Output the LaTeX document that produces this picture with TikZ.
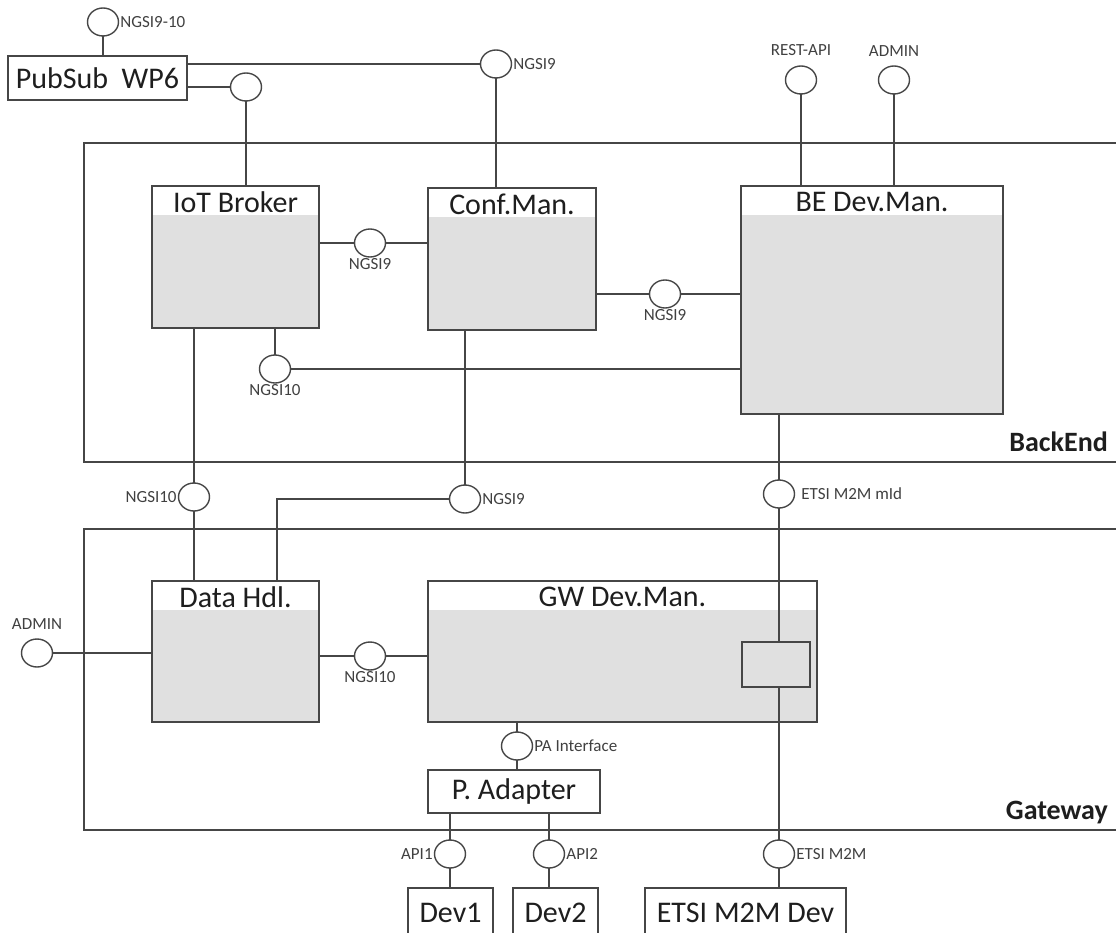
\documentclass[tikz,border=0pt]{standalone}
\usepackage{fontspec}
\setmainfont{Carlito}
\usetikzlibrary{shapes.geometric,calc}
\definecolor{boxgray}{RGB}{224,224,224}
\definecolor{linec}{RGB}{70,70,70}
\definecolor{txt}{RGB}{30,30,30}
\newcommand\compbox[6]{%
  \fill[boxgray] (#2,#3+29) rectangle (#4,#5);
  \node[draw=linec,line width=1.6pt,inner sep=0pt,minimum width={#4-#2},minimum height={#5-#3}] (#1) at ({(#2+#4)/2},{(#3+#5)/2}) {};
  \node[ttl] at ({(#2+#4)/2},#3+16) {#6};
}
\begin{document}
\begin{tikzpicture}[x=1pt,y=-1pt,
  ln/.style={draw=linec,line width=1.4pt},
  ifc/.style={ellipse,draw=linec,line width=1.4pt,fill=white,minimum width=31pt,minimum height=28pt,inner sep=0pt,label distance=3pt},
  lab/.style={font=\fontsize{17}{18}\selectfont,text=txt!85,inner sep=1pt},
  plain/.style={draw=linec,line width=1.6pt,fill=white,inner sep=0pt,font=\fontsize{30}{32}\selectfont,text=txt},
  ttl/.style={font=\fontsize{30}{32}\selectfont,text=txt,inner sep=0pt},
  zone/.style={font=\bfseries\fontsize{28}{30}\selectfont,text=txt,inner sep=0pt}]
\useasboundingbox (0,0) rectangle (1116,933);
\clip (0,0) rectangle (1116,933);

% zones
\draw[ln] (1116,143) -- (84,143) -- (84,462) -- (1116,462);
\draw[ln] (1116,529) -- (84,529) -- (84,830) -- (1116,830);
\node[zone,anchor=base east] (beLbl) at (1108,451) {BackEnd};
\node[zone,anchor=base east] (gwLbl) at (1108,819) {Gateway};

% components
\compbox{iot}{152}{186}{319}{328}{IoT Broker}
\compbox{conf}{428}{188}{596}{330}{Conf.Man.}
\compbox{bedm}{741}{186}{1003}{414}{BE Dev.Man.}
\compbox{dh}{152}{581}{319}{722}{Data Hdl.}
\compbox{gwdm}{428}{581}{817}{722}{GW Dev.Man.}

% plain boxes
\node[plain,minimum width=179pt,minimum height=44pt] (pubsub) at (97.5,78) {PubSub\ \ WP6};
\node[plain,minimum width=172pt,minimum height=43pt] (padapt) at (514,791.5) {P. Adapter};
\node[plain,minimum width=85pt,minimum height=50pt] (dev1) at (450.5,913) {Dev1};
\node[plain,minimum width=85pt,minimum height=50pt] (dev2) at (555.5,913) {Dev2};
\node[plain,minimum width=201pt,minimum height=50pt] (etsidev) at (745.5,913) {ETSI M2M Dev};

% interface positions
\coordinate (n910) at (103,22);
\coordinate (ngsitop) at (496,64);
\coordinate (pubiot) at (246,87);
\coordinate (rest) at (801,80);
\coordinate (admin1) at (894,80);
\coordinate (n9a) at (370,243);
\coordinate (n9b) at (665,294);
\coordinate (n10a) at (275,369);
\coordinate (n10b) at (194,497);
\coordinate (n9c) at (465,499);
\coordinate (mid) at (779,494);
\coordinate (admin2) at (37,653);
\coordinate (n10c) at (370,656);
\coordinate (pa) at (517,746);
\coordinate (api1) at (450,854);
\coordinate (api2) at (549,854);
\coordinate (m2m) at (779,854);
\coordinate (dhin) at (277,0);

% connectors
\draw[ln] (n910) -- (pubsub.north -| n910);
\draw[ln] (ngsitop) -- (ngsitop -| pubsub.east);
\draw[ln] (pubiot) -- (pubiot -| pubsub.east);
\draw[ln] (pubiot) -- (iot.north -| pubiot);
\draw[ln] (ngsitop) -- (conf.north -| ngsitop);
\draw[ln] (rest) -- (bedm.north -| rest);
\draw[ln] (admin1) -- (bedm.north -| admin1);
\draw[ln] (iot.east |- n9a) -- (conf.west |- n9a);
\draw[ln] (conf.east |- n9b) -- (bedm.west |- n9b);
\draw[ln] (iot.south -| n10a) -- (n10a) -- (bedm.west |- n10a);
\draw[ln] (iot.south -| n10b) -- (dh.north -| n10b);
\draw[ln] (conf.south -| n9c) -- (n9c) -- (n9c -| dhin) -- (dh.north -| dhin);
\draw[ln] (bedm.south -| mid) -- (etsidev.north -| mid);
\draw[ln] (admin2) -- (dh.west |- admin2);
\draw[ln] (dh.east |- n10c) -- (gwdm.west |- n10c);
\draw[ln] (gwdm.south -| pa) -- (padapt.north -| pa);
\draw[ln] (padapt.south -| api1) -- (dev1.north -| api1);
\draw[ln] (padapt.south -| api2) -- (dev2.north -| api2);

% sub-box inside GW Dev.Man.
\node[draw=linec,line width=1.6pt,fill=boxgray,minimum width=68pt,minimum height=45pt,inner sep=0pt] (gwsub) at (776,664.5) {};

% interfaces
\node[ifc,label={[lab]right:NGSI9-10}] (i910) at (n910) {};
\node[ifc,label={[lab]right:NGSI9}] (itop) at (ngsitop) {};
\node[ifc] (ipub) at (pubiot) {};
\node[ifc,label={[lab,label distance=8pt]above:REST-API}] (irest) at (rest) {};
\node[ifc,label={[lab,label distance=8pt]above:ADMIN}] (iadm1) at (admin1) {};
\node[ifc,label={[lab]below:NGSI9}] (i9a) at (n9a) {};
\node[ifc,label={[lab]below:NGSI9}] (i9b) at (n9b) {};
\node[ifc,label={[lab]below:NGSI10}] (i10a) at (n10a) {};
\node[ifc,label={[lab]left:NGSI10}] (i10b) at (n10b) {};
\node[ifc,label={[lab]right:NGSI9}] (i9c) at (n9c) {};
\node[ifc,label={[lab,label distance=5pt]right:ETSI M2M mId}] (imid) at (mid) {};
\node[ifc,label={[lab,label distance=8pt]above:ADMIN}] (iadm2) at (admin2) {};
\node[ifc,label={[lab]below:NGSI10}] (i10c) at (n10c) {};
\node[ifc,label={[lab]right:PA Interface}] (ipa) at (pa) {};
\node[ifc,label={[lab]left:API1}] (iapi1) at (api1) {};
\node[ifc,label={[lab]right:API2}] (iapi2) at (api2) {};
\node[ifc,label={[lab]right:ETSI M2M}] (im2m) at (m2m) {};
\end{tikzpicture}
\end{document}
